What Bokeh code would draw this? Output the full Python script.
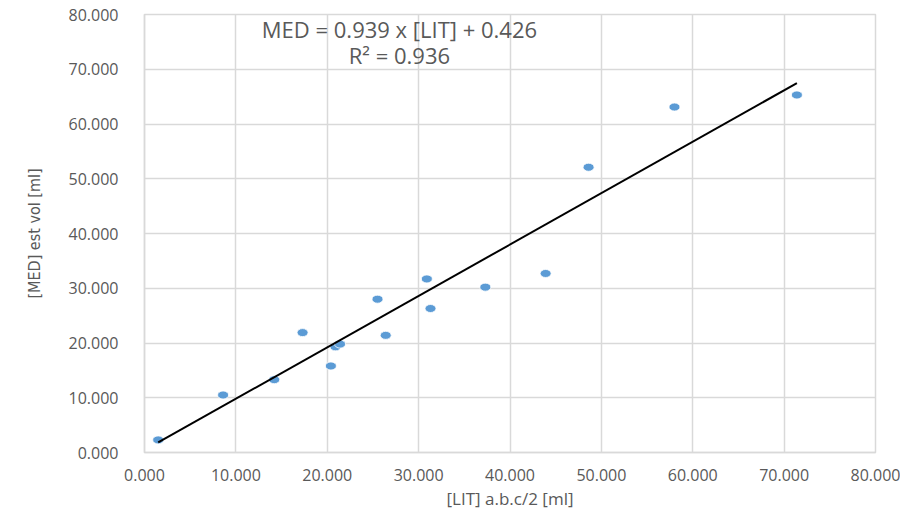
from bokeh.plotting import figure
from bokeh.models import Label, NumeralTickFormatter, FixedTicker, Range1d, ColumnDataSource
from bokeh.embed import file_html
from bokeh.resources import INLINE

# Data
lit = [1.5, 8.6, 14.2, 17.3, 20.4, 20.9, 21.4, 25.5, 26.4, 30.9, 31.3, 37.3, 43.9, 48.6, 58.0, 71.4]
med = [2.3, 10.5, 13.3, 21.9, 15.8, 19.3, 19.8, 28.0, 21.4, 31.7, 26.3, 30.2, 32.7, 52.1, 63.1, 65.3]
slope = 0.939
intercept = 0.426
r2 = 0.936
x_ticks = [0, 10, 20, 30, 40, 50, 60, 70, 80]
y_ticks = [0, 10, 20, 30, 40, 50, 60, 70, 80]

trend_x = [min(lit), max(lit)]
trend_y = [slope * v + intercept for v in trend_x]

TEXT = "#595959"
GRID = "#d9d9d9"

p = figure(width=900, height=512, output_backend="svg", toolbar_location=None,
           x_range=Range1d(0, 80), y_range=Range1d(0, 80),
           min_border_left=144, min_border_right=25, min_border_top=14, min_border_bottom=59)
p.background_fill_color = "white"
p.border_fill_color = "white"
p.outline_line_color = GRID
p.outline_line_width = 1.5

src = ColumnDataSource(dict(x=lit, y=med))
p.ellipse(x="x", y="y", width=11, height=8, width_units="screen", height_units="screen",
          source=src, fill_color="#5b9bd5", line_color="white", line_width=0.8)
p.line(trend_x, trend_y, line_color="black", line_width=2)

for ax, ticks in ((p.xaxis, x_ticks), (p.yaxis, y_ticks)):
    ax.ticker = FixedTicker(ticks=ticks)
    ax.formatter = NumeralTickFormatter(format="0.000")
    ax.major_tick_line_color = None
    ax.minor_tick_line_color = None
    ax.axis_line_color = GRID
    ax.axis_line_width = 1.5
    ax.major_label_text_color = TEXT
    ax.major_label_text_font = "Open Sans"
    ax.major_label_text_font_size = "16px"
    ax.axis_label_text_color = TEXT
    ax.axis_label_text_font_style = "normal"

p.xaxis.major_label_standoff = 10
p.yaxis.major_label_standoff = 20
p.xaxis.axis_label = "[LIT] a.b.c/2 [ml]"
p.xaxis.axis_label_text_font = "Open Sans"
p.xaxis.axis_label_text_font_size = "17px"
p.xaxis.axis_label_standoff = 3
p.yaxis.axis_label = "[MED] est vol [ml]"
p.yaxis.axis_label_text_font = "'DejaVu Sans Condensed', Roboto"
p.yaxis.axis_label_text_font_size = "16px"
p.yaxis.axis_label_standoff = 22

p.xgrid.grid_line_color = GRID
p.ygrid.grid_line_color = GRID
p.xgrid.grid_line_width = 1.5
p.ygrid.grid_line_width = 1.5

eq1 = Label(x=27.9, y=77.3, text="MED = %.3f x [LIT] + %.3f" % (slope, intercept),
            text_align="center", text_baseline="middle", text_color=TEXT,
            text_font="Open Sans", text_font_size="22px")
eq2 = Label(x=27.9, y=72.6, text="R² = %.3f" % r2,
            text_align="center", text_baseline="middle", text_color=TEXT,
            text_font="Open Sans", text_font_size="22px")
p.add_layout(eq1)
p.add_layout(eq2)

open("out.html", "w").write(file_html(p, INLINE))
